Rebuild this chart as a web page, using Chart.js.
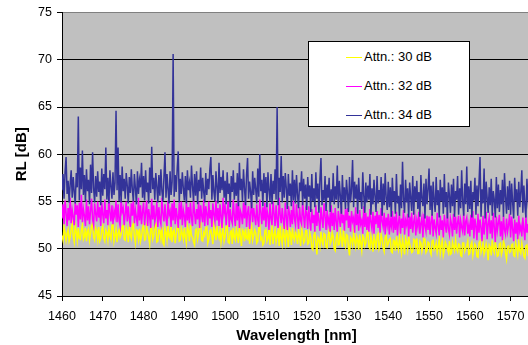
<!DOCTYPE html>
<html>
<head>
<meta charset="utf-8">
<script src="https://cdn.jsdelivr.net/npm/chart.js@4.4.1/dist/chart.umd.min.js"></script>
<style>
    html, body { margin: 0; padding: 0; background: #fff; overflow: hidden; }
    #wrap { position: relative; width: 528px; height: 345px; overflow: hidden; }
    #chart { position: absolute; left: 0; top: 0; }
    #legend {
        position: absolute; left: 308px; top: 41px; width: 160px; height: 84px;
        background: #fff; border: 1px solid #000;
        font-family: "Liberation Sans", Arial, sans-serif; font-size: 13px; color: #000;
    }
    .item { position: absolute; left: 37px; height: 16px; line-height: 16px; white-space: nowrap; }
    .item span { display: inline-block; width: 16px; height: 1px; vertical-align: middle; margin-right: 2px; }
</style>
</head>
<body>
<div id="wrap">
    <canvas id="chart" width="540" height="345"></canvas>
    <div id="legend"></div>
</div>
<script>
// readings every 0.25 nm starting at 1460 nm
const startWl = 1460;
const stepWl = 0.25;

const labels = ['Attn.: 30 dB', 'Attn.: 32 dB', 'Attn.: 34 dB'];
const colors = ['#FFFF00', '#FF00FF', '#333399'];

const attn30 = [
    51.4, 50.9, 52.3, 51.7, 50.9, 51.6, 52.0, 50.8, 51.2, 52.1,
    52.6, 51.3, 50.7, 52.4, 51.8, 50.9, 52.2, 51.1, 51.0, 52.0,
    52.5, 51.0, 51.3, 52.2, 50.8, 51.8, 52.1, 50.9, 51.6, 52.4,
    52.7, 51.2, 50.9, 52.2, 51.9, 51.0, 52.3, 50.8, 51.1, 52.0,
    52.4, 51.1, 50.8, 52.0, 51.7, 50.9, 52.2, 51.4, 51.0, 52.5,
    52.6, 50.8, 51.4, 52.1, 50.7, 51.6, 52.0, 51.2, 51.5, 52.3,
    52.5, 51.0, 50.9, 52.2, 51.8, 50.7, 52.3, 51.5, 51.1, 52.4,
    52.7, 51.3, 50.6, 52.0, 51.9, 51.0, 52.1, 50.8, 51.3, 52.2,
    52.5, 50.9, 51.0, 52.3, 51.8, 51.2, 50.5, 52.1, 52.2, 51.0,
    51.4, 52.4, 52.6, 50.7, 50.8, 52.0, 51.9, 51.1, 52.3, 50.6,
    50.4, 52.2, 51.7, 50.9, 52.4, 51.3, 51.1, 52.5, 50.7, 51.8,
    52.0, 50.6, 51.5, 52.3, 52.6, 50.8, 50.9, 52.1, 51.6, 51.0,
    52.2, 51.2, 50.6, 52.4, 51.9, 50.8, 52.5, 51.4, 51.2, 50.7,
    50.4, 52.0, 52.1, 51.0, 51.6, 52.6, 52.7, 50.9, 50.8, 51.7,
    51.4, 52.2, 52.3, 50.6, 51.0, 51.9, 52.0, 51.3, 50.5, 52.4,
    51.8, 50.9, 52.4, 51.5, 51.1, 52.0, 50.7, 51.6, 52.2, 50.8,
    51.3, 52.3, 52.4, 50.7, 50.6, 51.8, 51.9, 50.5, 52.2, 51.2,
    50.9, 52.1, 51.5, 50.6, 52.5, 51.3, 50.3, 52.0, 51.8, 50.8,
    52.1, 51.1, 51.0, 52.3, 50.5, 51.7, 52.3, 50.9, 51.4, 52.0,
    51.7, 50.6, 50.8, 52.2, 52.4, 51.0, 51.2, 50.4, 50.6, 51.9,
    52.0, 50.8, 51.1, 52.2, 50.4, 51.6, 52.3, 50.5, 51.5, 52.0,
    50.7, 51.3, 51.9, 50.3, 52.4, 51.1, 50.5, 52.1, 51.3, 50.6,
    52.1, 51.5, 50.2, 52.0, 51.7, 50.4, 52.2, 51.2, 50.9, 51.8,
    51.4, 50.5, 52.0, 51.3, 50.3, 52.1, 51.6, 50.6, 50.8, 51.9,
    51.9, 50.5, 50.6, 51.7, 51.2, 50.1, 49.9, 51.4, 51.7, 50.6,
    49.4, 51.2, 51.0, 50.3, 51.8, 50.8, 50.4, 51.6, 51.5, 50.2,
    50.1, 51.4, 51.9, 50.5, 50.8, 51.7, 51.3, 50.0, 49.8, 51.2,
    51.6, 50.4, 50.5, 51.8, 51.1, 50.2, 52.0, 50.9, 50.3, 51.5,
    51.4, 50.1, 49.3, 51.2, 51.0, 50.4, 51.7, 50.8, 50.2, 51.3,
    50.9, 49.9, 51.5, 50.6, 49.8, 51.4, 51.2, 50.3, 50.6, 51.6,
    51.8, 50.2, 50.0, 51.3, 50.7, 49.7, 51.3, 50.8, 49.9, 51.4,
    51.6, 50.0, 50.4, 51.5, 51.0, 50.1, 49.7, 51.2, 51.4, 50.3,
    50.5, 51.0, 51.1, 49.7, 49.6, 50.9, 50.8, 49.8, 51.3, 50.4,
    49.9, 51.2, 50.4, 49.6, 51.0, 50.3, 49.4, 51.1, 50.7, 49.9,
    51.2, 50.5, 50.1, 49.6, 49.7, 51.0, 50.9, 50.2, 51.1, 49.5,
    49.5, 50.8, 50.6, 49.7, 50.2, 51.1, 51.0, 49.6, 49.8, 50.7,
    50.6, 49.7, 49.4, 50.8, 50.9, 49.9, 50.1, 50.6, 49.6, 50.2,
    51.0, 49.5, 50.3, 50.9, 49.3, 49.8, 50.7, 50.4, 50.0, 49.6,
    50.8, 49.4, 49.5, 50.7, 50.2, 49.8, 50.9, 50.0, 49.7, 50.5,
    50.4, 49.3, 49.2, 50.6, 50.6, 49.7, 50.0, 50.3, 50.8, 49.4,
    49.5, 50.4, 50.7, 49.3, 49.9, 50.5, 50.3, 49.2, 49.1, 50.6,
    50.8, 49.6, 50.0, 50.6, 49.4, 49.8, 50.5, 49.9, 48.8, 50.4,
    50.2, 49.3, 50.9, 50.0, 49.6, 50.7, 50.1, 49.2, 49.3, 50.5,
    50.6, 49.4, 49.8, 50.8, 50.4, 49.5, 48.9, 50.2, 50.3, 49.6,
    49.7, 50.4, 50.5, 49.3, 49.2, 50.6, 50.1, 49.4, 50.7, 49.8,
    49.5, 50.6, 50.0, 49.2, 49.0, 50.3, 50.4, 49.5, 49.8, 50.7,
    50.2
];

const attn32 = [
    53.2, 54.7, 52.6, 55.1, 53.8, 52.4, 54.3, 53.0, 55.4, 52.7,
    54.1, 53.4, 52.5, 55.0, 53.6, 54.6, 52.3, 54.9, 53.1, 55.7,
    52.8, 54.2, 53.5, 52.4, 55.2, 53.0, 54.5, 52.6, 54.0, 55.3,
    53.1, 52.5, 54.8, 53.7, 52.9, 55.0, 53.3, 54.4, 52.4, 54.9,
    53.6, 52.7, 55.2, 53.2, 54.1, 52.5, 55.5, 53.8, 52.9, 54.6,
    52.6, 54.0, 53.4, 55.1, 52.8, 54.7, 53.0, 52.4, 55.3, 53.9,
    54.3, 52.5, 53.7, 55.0, 52.9, 54.5, 53.2, 52.3, 54.8, 53.5,
    55.2, 52.7, 54.1, 53.3, 52.4, 55.4, 53.0, 54.6, 52.6, 53.9,
    54.9, 52.5, 53.8, 55.1, 52.4, 54.2, 53.4, 52.2, 55.3, 53.1,
    54.6, 52.8, 53.5, 55.0, 52.3, 54.4, 53.1, 52.6, 55.4, 53.7,
    52.9, 54.7, 53.2, 52.4, 55.1, 53.6, 54.0, 52.3, 54.8, 53.0,
    55.2, 52.6, 54.3, 53.4, 52.2, 54.9, 53.1, 55.0, 52.5, 54.1,
    53.5, 52.3, 55.1, 53.0, 54.4, 52.7, 54.9, 53.3, 52.4, 55.3,
    53.8, 52.6, 54.2, 53.1, 55.0, 52.2, 54.6, 53.5, 52.8, 55.2,
    52.4, 54.5, 53.7, 52.5, 55.0, 53.2, 54.1, 52.3, 54.8, 53.6,
    52.9, 55.1, 53.0, 54.3, 52.4, 54.7, 53.4, 52.2, 55.4, 53.8,
    54.5, 52.5, 53.9, 55.0, 52.3, 54.2, 53.1, 52.7, 55.2, 53.5,
    52.4, 54.8, 53.0, 55.3, 52.2, 54.0, 53.6, 52.6, 54.9, 53.2,
    55.1, 52.3, 53.8, 54.5, 52.1, 53.7, 55.0, 52.8, 54.3, 53.4,
    52.5, 54.7, 53.1, 52.3, 55.2, 53.9, 52.6, 54.4, 53.0, 54.9,
    52.3, 54.2, 53.5, 52.0, 54.8, 53.2, 52.5, 55.0, 53.7, 52.4,
    54.6, 53.0, 52.2, 55.4, 53.6, 52.7, 54.3, 53.1, 52.1, 54.9,
    53.4, 52.0, 54.5, 53.8, 52.3, 54.1, 52.6, 55.1, 53.2, 52.5,
    54.7, 53.3, 52.1, 54.4, 53.0, 52.6, 55.0, 53.5, 52.2, 54.2,
    53.8, 52.1, 54.5, 53.0, 51.9, 54.2, 52.7, 53.6, 51.8, 54.6,
    52.4, 53.9, 52.9, 51.9, 54.4, 53.2, 52.2, 54.8, 53.5, 52.0,
    54.1, 52.6, 53.3, 51.8, 54.6, 52.4, 53.8, 52.0, 54.3, 52.9,
    51.8, 54.0, 53.2, 52.3, 54.5, 52.7, 53.6, 51.9, 54.2, 53.0,
    54.3, 52.2, 53.5, 51.8, 54.0, 52.9, 53.3, 51.7, 54.4, 52.5,
    53.7, 51.9, 54.1, 52.6, 53.0, 51.6, 54.5, 52.3, 53.8, 52.0,
    53.4, 51.8, 54.2, 52.8, 52.1, 53.9, 51.6, 53.5, 52.6, 54.0,
    52.2, 53.6, 51.7, 54.3, 52.9, 52.3, 53.8, 51.5, 53.3, 52.5,
    53.7, 51.5, 53.1, 52.4, 54.0, 51.7, 53.4, 52.0, 53.9, 51.4,
    52.8, 53.6, 51.6, 53.2, 52.2, 54.1, 51.5, 53.0, 52.5, 53.7,
    51.3, 53.4, 52.1, 53.8, 51.7, 52.9, 53.5, 51.4, 53.0, 52.3,
    53.9, 51.6, 52.7, 53.3, 51.2, 53.7, 52.4, 51.8, 53.5, 52.0,
    53.4, 51.5, 52.9, 53.7, 51.3, 53.1, 52.2, 51.6, 53.8, 52.4,
    51.4, 53.5, 52.0, 53.0, 51.2, 53.6, 52.5, 51.7, 53.9, 52.1,
    51.5, 53.2, 52.6, 51.3, 53.7, 52.0, 53.4, 51.6, 52.8, 53.5,
    51.2, 53.0, 52.3, 51.8, 53.8, 51.4, 52.9, 53.3, 51.6, 52.5,
    51.3, 53.6, 52.0, 54.0, 51.1, 53.2, 52.4, 50.9, 53.7, 51.7,
    53.1, 52.2, 50.8, 53.5, 51.5, 52.8, 53.9, 51.0, 52.6, 53.3,
    51.6, 53.0, 51.1, 53.8, 52.3, 50.7, 53.4, 51.9, 52.7, 53.6,
    51.3, 52.9, 50.9, 53.5, 52.0, 51.5, 53.2, 51.8, 52.5, 53.7,
    51.2, 53.4, 52.1, 50.8, 53.1, 51.6, 52.8, 51.0, 53.5, 51.9,
    52.4, 51.3, 53.3, 52.0, 50.9, 53.6, 51.7, 52.6, 51.1, 53.0,
    52.2
];

const attn34 = [
    56.2, 57.9, 55.3, 58.1, 59.7, 55.8, 57.2, 54.9, 56.8, 58.3,
    55.4, 57.6, 56.0, 54.8, 58.0, 56.5, 64.0, 55.1, 58.6, 56.3,
    60.4, 55.7, 57.8, 55.0, 58.4, 56.1, 57.3, 54.7, 58.9, 55.9,
    60.2, 56.4, 54.9, 57.7, 55.5, 58.2, 56.0, 57.1, 54.6, 58.5,
    55.6, 57.9, 56.3, 60.7, 55.2, 57.5, 54.8, 58.3, 56.6, 55.3,
    58.1, 55.7, 57.0, 64.6, 56.2, 60.7, 55.0, 57.8, 54.9, 58.7,
    56.1, 57.4, 55.3, 58.0, 56.7, 54.8, 57.6, 55.9, 58.4, 56.2,
    55.0, 57.9, 56.4, 54.7, 58.2, 55.8, 57.3, 56.5, 59.1, 55.4,
    57.7, 55.1, 58.3, 56.0, 57.0, 54.8, 58.6, 55.9, 60.8, 56.3,
    57.5, 55.2, 58.0, 56.6, 54.9, 57.8, 55.6, 58.4, 56.1, 55.0,
    57.6, 60.2, 55.4, 57.9, 56.3, 54.8, 58.2, 55.7, 57.1, 70.6,
    55.5, 57.8, 56.0, 58.5, 60.3, 54.9, 57.4, 55.8, 58.1, 56.4,
    55.1, 57.7, 54.8, 58.3, 56.2, 57.0, 55.4, 58.8, 56.6, 55.0,
    57.9, 55.6, 58.2, 54.7, 57.3, 56.1, 58.6, 55.3, 57.5, 56.0,
    54.9, 58.0, 55.7, 57.4, 56.3, 58.4, 59.7, 55.2, 57.8, 56.0,
    55.0, 58.2, 56.5, 54.8, 59.1, 55.9, 57.6, 56.2, 58.3, 55.4,
    57.2, 54.7, 58.1, 55.8, 56.9, 54.4, 57.7, 56.0, 58.3, 55.2,
    57.0, 55.6, 58.0, 54.5, 59.1, 56.2, 57.4, 55.0, 58.4, 56.4,
    54.6, 57.8, 59.6, 55.3, 57.1, 56.0, 54.3, 58.2, 55.7, 57.5,
    56.3, 54.8, 58.5, 55.5, 60.0, 56.1, 57.3, 54.5, 58.0, 55.9,
    57.6, 54.4, 58.1, 56.2, 55.0, 57.9, 54.7, 57.2, 55.8, 58.4,
    55.2, 65.0, 54.6, 57.5, 56.0, 59.8, 54.9, 57.7, 55.4, 58.0,
    56.4, 54.2, 57.9, 55.6, 56.9, 54.5, 58.3, 55.1, 57.3, 54.8,
    57.8, 55.7, 54.3, 57.0, 56.1, 58.2, 54.6, 57.4, 55.3, 56.8,
    54.1, 57.6, 55.5, 56.7, 53.9, 57.9, 55.0, 56.4, 54.4, 58.1,
    55.3, 56.9, 53.8, 57.4, 59.6, 54.6, 56.2, 55.1, 57.7, 54.0,
    56.8, 55.4, 57.5, 53.9, 56.3, 55.0, 58.0, 54.7, 56.6, 55.2,
    58.8, 54.3, 57.2, 55.6, 53.7, 57.8, 55.0, 56.5, 54.2, 57.3,
    55.8, 53.9, 57.6, 54.9, 56.3, 59.4, 54.4, 57.1, 55.3, 56.8,
    53.7, 57.5, 55.1, 56.0, 54.2, 58.1, 55.6, 53.8, 57.0, 54.9,
    56.7, 55.2, 57.9, 53.6, 56.4, 54.7, 57.3, 55.5, 53.9, 57.7,
    54.8, 56.2, 55.0, 57.6, 53.5, 56.9, 54.6, 58.0, 55.3, 54.1,
    57.1, 54.4, 56.5, 53.4, 57.5, 55.0, 56.1, 53.7, 57.9, 54.8,
    55.6, 53.5, 56.8, 54.3, 59.2, 55.1, 53.8, 57.3, 54.9, 56.4,
    53.3, 57.0, 55.4, 54.0, 57.7, 53.6, 56.6, 55.0, 57.2, 54.2,
    56.0, 53.4, 57.8, 55.3, 54.5, 56.9, 53.2, 57.4, 54.7, 56.3,
    58.5, 54.1, 56.7, 53.5, 57.1, 55.2, 53.9, 57.6, 54.6, 56.2,
    53.3, 57.3, 55.0, 56.5, 53.7, 57.9, 54.4, 56.0, 53.2, 57.0,
    55.6, 53.8, 56.8, 54.5, 57.4, 53.4, 56.1, 55.2, 57.7, 53.6,
    56.4, 54.3, 58.3, 55.0, 53.5, 56.9, 54.7, 58.7, 53.9, 56.6,
    54.2, 57.2, 53.3, 56.0, 55.1, 57.5, 53.6, 56.7, 54.5, 57.0,
    59.7, 53.4, 56.3, 54.8, 58.5, 53.2, 57.1, 55.4, 53.8, 56.5,
    54.6, 57.4, 53.5, 56.1, 55.2, 53.3, 57.6, 54.3, 56.8, 53.9,
    56.2, 54.7, 57.3, 53.4, 58.0, 55.5, 53.7, 56.6, 54.1, 57.2,
    53.6, 56.9, 54.9, 53.2, 57.5, 55.0, 56.3, 53.5, 57.1, 54.4,
    56.0, 58.3, 53.8, 56.7, 54.6, 53.3, 57.4, 55.1, 53.9, 56.5,
    54.5
];

const series = [attn30, attn32, attn34];

const FONT = '"Liberation Sans", Arial, sans-serif';

const plotBg = {
    id: 'plotBg',
    beforeDraw(chart) {
        const { ctx, chartArea: a } = chart;
        ctx.save();
        ctx.fillStyle = '#C0C0C0';
        ctx.fillRect(a.left, a.top, a.right - a.left, a.bottom - a.top);
        ctx.restore();
    }
};

const datasets = series.map((vals, s) => ({
    label: labels[s],
    data: vals.map((v, i) => ({ x: startWl + i * stepWl, y: v })),
    borderColor: colors[s],
    backgroundColor: colors[s],
    borderWidth: 1.5,
    borderJoinStyle: 'miter',
    pointRadius: 0,
    tension: 0,
    order: 3 - s
}));

new Chart(document.getElementById('chart'), {
    type: 'line',
    data: { datasets },
    options: {
        responsive: false,
        animation: false,
        layout: { padding: { left: 0, top: 12, right: 9, bottom: 0 } },
        plugins: { legend: { display: false }, tooltip: { enabled: false } },
        scales: {
            x: {
                type: 'linear',
                min: 1460,
                max: 1575,
                afterFit: s => { s.height = 49; },
                border: { color: '#000', width: 1 },
                grid: { drawOnChartArea: false, tickLength: 5, tickColor: '#000' },
                ticks: {
                    stepSize: 10, includeBounds: false, padding: 8, maxRotation: 0,
                    color: '#000', font: { family: FONT, size: 12.5 },
                    callback: v => String(v)
                },
                title: {
                    display: true, text: 'Wavelength [nm]', color: '#000',
                    font: { family: FONT, size: 15, weight: 'bold' },
                    padding: { top: 0, bottom: 0 }
                }
            },
            y: {
                min: 45,
                max: 75,
                afterFit: s => { s.width = 62; },
                border: { color: '#000', width: 1 },
                grid: {
                    color: c => (c.tick && c.tick.value === 75 ? '#808080' : '#000'),
                    tickColor: '#000',
                    tickLength: 5
                },
                ticks: {
                    stepSize: 5, padding: 5, color: '#000',
                    font: { family: FONT, size: 12.5 }
                },
                title: {
                    display: true, text: 'RL [dB]', color: '#000',
                    font: { family: FONT, size: 15, weight: 'bold' },
                    padding: { top: 13, bottom: 0 }
                }
            }
        }
    },
    plugins: [plotBg]
});

// legend box drawn as html
const legend = document.getElementById('legend');
const tops = [7, 36, 65];
labels.forEach((lab, i) => {
    const item = document.createElement('div');
    item.className = 'item';
    item.style.top = tops[i] + 'px';
    const sw = document.createElement('span');
    sw.style.background = colors[i];
    item.appendChild(sw);
    item.appendChild(document.createTextNode(lab));
    legend.appendChild(item);
});
</script>
</body>
</html>
